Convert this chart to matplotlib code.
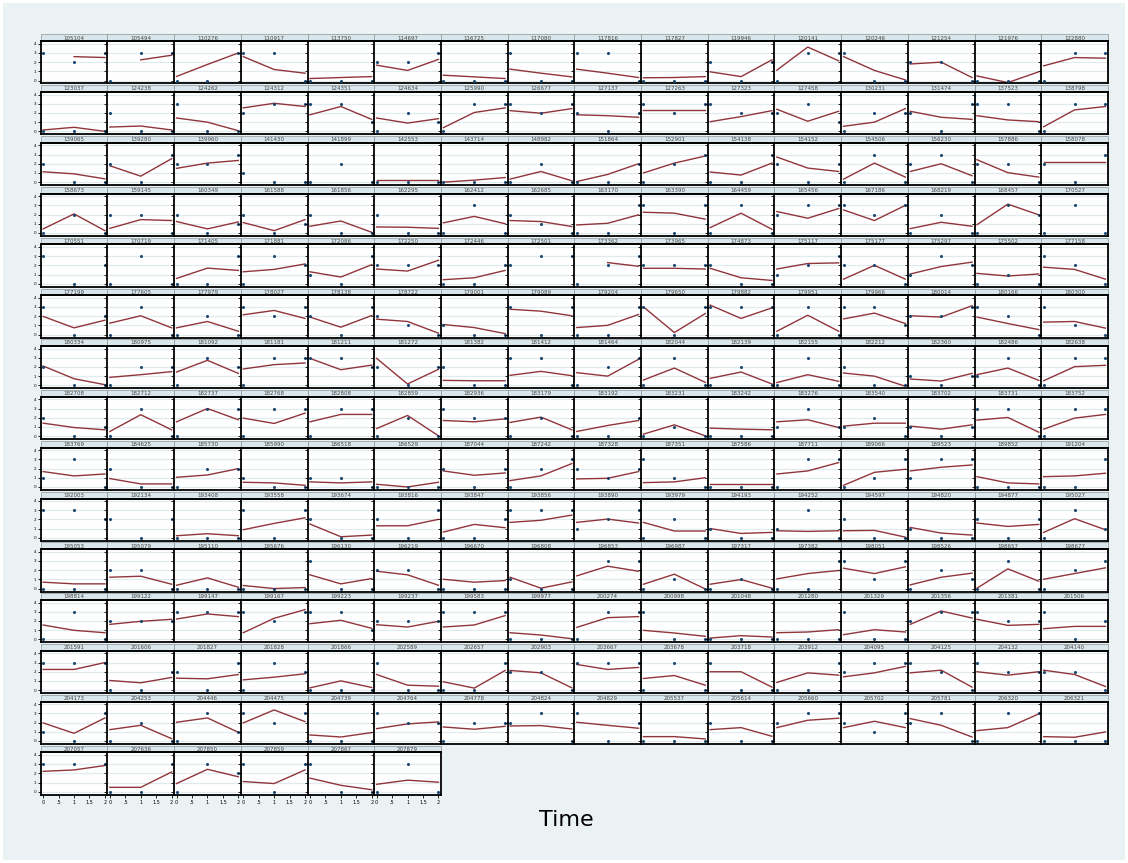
import matplotlib
matplotlib.use("Agg")
import matplotlib.pyplot as plt
from matplotlib.patches import Rectangle
from matplotlib.lines import Line2D
import numpy as np

nan = float('nan')

# ---------------- data ----------------
ids = [
    "105104","105494","110276","110917","113750","114697","116725","117080","117816","117827","119946","120141","120246","121254","121976","122880",
    "123037","124238","124262","124312","124351","124634","125990","126677","127137","127263","127323","127458","130231","131474","137523","138798",
    "139065","139280","139960","141430","141899","142553","143714","148982","151864","152901","154138","154152","154506","156230","157886","158078",
    "158673","159145","160349","161588","161856","162295","162412","162685","163170","163390","164459","165456","167186","168219","168457","170527",
    "170551","170719","171405","171881","172086","172250","172446","172501","173362","173965","174873","175117","175177","175297","175502","177158",
    "177199","177605","177979","178027","178138","178722","179001","179089","179204","179650","179882","179951","179966","180014","180166","180300",
    "180334","180975","181092","181181","181211","181272","181382","181412","181464","182044","182139","182155","182212","182360","182486","182638",
    "182708","182712","182737","182768","182808","182859","182936","183179","183192","183231","183242","183276","183540","183702","183731","183752",
    "183769","184625","185730","185990","186518","186529","187044","187242","187328","187351","187586","187711","189066","189523","189852","191204",
    "192003","192134","193408","193558","193674","193816","193847","193856","193890","193979","194193","194252","194597","194820","194877","195027",
    "195053","195079","195110","195676","196130","196219","196670","196808","196853","196987","197317","197382","198051","198526","198657","198677",
    "198814","199122","199147","199167","199223","199237","199583","199977","200274","200998","201048","201280","201329","201356","201381","201506",
    "201591","201606","201827","201828","201866","202589","202657","202903","203667","203678","203718","203912","204095","204125","204132","204140",
    "204173","204253","204446","204475","204739","204764","204778","204824","204829","205537","205614","205660","205702","205781","206320","206321",
    "207057","207636","207850","207859","207867","207879",
]

times = [0, 1, 2]

# observed values at time 0, 1, 2
observed = [
    (3,2,3),(0,3,3),(0,0,3),(3,3,0),(0,0,0),(2,2,3),(0,0,0),(3,0,0),(3,3,0),(0,0,0),(2,0,2),(0,3,3),(3,0,0),(2,2,0),(0,0,0),(0,3,3),
    (0,0,0),(2,0,0),(3,0,0),(2,3,3),(3,3,1),(0,2,1),(0,3,3),(3,2,3),(2,0,2),(3,2,3),(3,2,2),(2,3,1),(0,2,2),(2,0,3),(3,3,0),(0,3,3),
    (2,0,0),(2,0,3),(2,2,3),(1,0,0),(0,2,0),(0,0,0),(0,0,0),(0,2,0),(0,0,2),(0,2,3),(0,0,3),(2,0,2),(0,3,0),(2,3,0),(2,2,0),(2,0,3),
    (0,2,0),(2,2,0),(2,0,1),(2,0,1),(2,0,0),(2,0,0),(0,3,0),(2,1,0),(0,0,3),(3,0,3),(0,3,0),(2,3,3),(3,2,3),(0,2,0),(0,3,2),(0,3,0),
    (3,0,2),(0,3,0),(0,0,3),(0,3,2),(1,0,3),(2,2,2),(0,0,2),(2,3,3),(0,2,3),(2,2,2),(2,0,0),(1,2,3),(2,2,0),(1,3,2),(0,1,0),(3,2,0),
    (3,0,2),(0,3,0),(0,2,0),(3,2,3),(2,0,3),(2,1,0),(1,0,0),(3,0,3),(0,0,3),(3,0,3),(3,3,3),(0,3,0),(3,3,1),(2,2,3),(3,2,0),(3,1,0),
    (2,0,0),(0,2,2),(0,3,2),(0,3,3),(3,3,2),(2,0,2),(2,0,0),(3,3,0),(0,2,3),(0,3,0),(0,2,0),(0,3,0),(2,0,0),(1,0,1),(1,3,0),(0,3,3),
    (2,0,1),(0,3,0),(0,3,3),(0,3,3),(0,3,3),(0,2,0),(3,2,2),(0,2,0),(0,0,2),(0,1,0),(0,0,0),(1,3,1),(1,2,0),(1,0,1),(3,3,0),(0,3,3),
    (1,3,0),(2,0,0),(0,2,2),(1,0,0),(1,1,0),(0,0,0),(2,0,2),(0,2,3),(2,1,2),(3,1,0),(0,0,0),(0,3,3),(0,1,3),(1,3,3),(0,0,0),(0,0,3),
    (3,3,2),(2,0,2),(0,0,0),(3,0,3),(2,0,0),(2,0,3),(0,0,2),(3,3,3),(1,2,3),(0,2,0),(1,0,0),(1,3,0),(2,0,0),(1,0,0),(2,0,2),(0,3,1),
    (0,0,0),(2,2,0),(0,0,0),(0,0,0),(3,0,0),(2,2,0),(0,0,0),(1,0,0),(nan,3,3),(0,1,0),(0,1,0),(0,0,3),(3,1,3),(0,2,1),(0,3,0),(0,2,3),
    (0,3,0),(2,2,2),(3,3,3),(3,2,3),(3,3,1),(2,2,2),(3,3,3),(0,0,0),(0,3,3),(3,0,0),(0,0,0),(0,0,0),(3,0,0),(2,3,3),(3,2,2),(3,0,2),
    (3,3,3),(0,0,2),(2,0,3),(0,3,2),(0,0,0),(3,0,0),(0,0,3),(2,2,0),(3,3,3),(0,3,0),(3,0,0),(0,0,3),(2,3,3),(3,2,0),(3,2,2),(2,2,0),
    (1,0,3),(0,2,0),(0,3,1),(3,2,3),(0,0,0),(3,2,2),(0,2,2),(2,3,0),(3,0,2),(0,0,0),(2,0,0),(2,3,3),(2,1,3),(2,3,0),(0,3,3),(0,0,0),
    (3,3,3),(0,0,3),(0,3,2),(3,0,3),(3,0,0),(0,3,0),
]

# fitted values at time 0, 1, 2 (nan = not estimated)
fitted = [
    (nan,2.6,2.5),(nan,2.25,2.75),(0.45,1.75,3.0),(2.6,1.2,0.8),(0.22,0.33,0.43),(1.67,1.1,2.3),(0.58,0.4,0.22),(1.24,0.8,0.4),
    (1.24,0.8,0.33),(0.3,0.33,0.43),(0.95,0.43,2.25),(1.13,3.64,2.15),(2.6,1.1,0.07),(1.8,2.0,0.33),(0.5,-0.22,0.95),(1.6,2.5,2.43),
    (0.15,0.44,0.0),(0.47,0.58,0.15),(1.45,1.0,0.07),(2.55,3.05,2.7),(1.8,2.7,1.3),(1.45,0.9,1.38),(0.4,2.05,2.55),(2.25,1.97,2.47),
    (1.8,1.7,1.53),(2.33,2.33,2.33),(1.05,1.6,2.25),(2.4,1.1,2.18),(0.55,1.0,2.47),(2.18,1.53,1.3),(1.7,1.24,1.05),(0.5,2.33,2.7),
    (1.13,0.9,0.36),(1.78,0.65,2.55),(1.5,2.07,2.36),(nan,nan,nan),(nan,nan,nan),(0.22,0.22,0.22),(0.0,0.22,0.5),(0.33,1.16,0.15),
    (0.07,0.84,2.0),(1.0,2.07,2.84),(1.1,0.77,2.07),(2.73,1.53,1.16),(0.33,2.07,0.55),(1.16,2.0,0.7),(2.44,1.03,0.55),(2.18,2.18,2.18),
    (0.44,2.07,0.25),(0.5,1.45,1.35),(1.24,0.44,1.2),(1.13,0.25,1.45),(0.73,1.3,0.07),(0.65,0.62,0.5),(1.1,1.8,1.0),(1.35,1.24,0.7),
    (0.87,1.05,1.97),(2.25,2.15,1.5),(0.58,2.15,0.4),(2.33,1.6,2.65),(2.5,1.35,3.0),(0.47,1.16,0.73),(0.9,3.13,1.97),(nan,nan,nan),
    (nan,nan,nan),(nan,nan,nan),(0.58,1.7,1.45),(1.3,1.56,2.15),(1.3,0.73,2.07),(1.6,1.38,2.55),(0.44,0.65,1.45),(nan,nan,nan),
    (nan,2.3,1.9),(1.68,1.68,1.6),(1.68,0.65,0.36),(1.6,2.2,2.27),(0.5,2.0,0.5),(1.06,1.87,2.35),(1.13,0.84,1.06),(1.8,1.56,0.5),
    (1.97,0.73,1.56),(1.24,2.04,0.73),(0.73,1.42,0.36),(2.15,2.62,1.75),(1.9,0.8,2.07),(1.67,1.42,0.15),(1.09,0.76,0.1),(2.75,2.54,2.04),
    (0.76,1.0,2.18),(3.0,0.22,2.28),(3.2,1.75,2.9),(0.36,2.1,0.36),(1.7,2.33,1.2),(2.04,1.9,3.13),(1.9,1.2,0.54),(1.35,1.42,0.7),
    (2.1,0.72,0.07),(0.87,1.16,1.49),(1.45,2.72,1.3),(1.78,2.25,2.43),(2.93,1.7,2.2),(2.93,0.15,1.74),(0.54,0.5,0.5),(1.09,1.52,1.05),
    (1.38,1.0,2.83),(0.58,1.88,0.33),(0.76,1.45,0.15),(0.3,1.16,0.44),(1.34,1.0,-0.1),(0.69,0.47,1.3),(1.16,1.88,0.54),(0.5,2.03,2.18),
    (1.41,0.94,0.69),(0.51,2.33,0.69),(1.56,3.0,1.78),(1.96,1.38,2.5),(1.56,2.36,2.36),(0.83,2.25,0.04),(1.7,1.56,1.88),(1.49,2.07,0.69),
    (0.51,1.16,1.7),(0.22,1.23,0.04),(0.87,0.76,0.69),(1.56,1.78,0.94),(1.09,1.41,1.41),(1.09,0.76,1.23),(1.74,2.03,0.43),(0.76,1.96,2.36),
    (1.67,1.2,1.41),(0.91,0.33,0.33),(1.05,1.3,1.99),(0.51,0.44,0.18),(0.55,0.44,0.55),(0.29,0.0,0.51),(1.74,1.27,1.52),(0.69,1.2,2.54),
    (0.87,0.94,1.67),(0.47,0.55,1.0),(0.29,0.29,0.29),(1.41,1.74,2.65),(0.18,1.59,1.92),(1.74,2.14,2.39),(1.12,0.44,0.33),(1.12,1.2,1.49),
    (nan,nan,nan),(nan,nan,nan),(0.22,0.44,0.22),(0.87,1.56,2.17),(1.49,0.11,0.29),(1.3,1.3,2.0),(0.62,1.45,1.09),(1.67,1.9,2.46),
    (1.67,2.03,1.6),(1.67,0.73,0.73),(1.0,0.47,0.58),(0.76,0.69,0.76),(0.76,0.8,0.07),(1.12,0.51,0.29),(1.6,1.23,1.45),(0.58,2.07,0.87),
    (0.69,0.51,0.51),(1.23,1.34,0.47),(0.36,1.16,0.14),(0.33,0.0,0.11),(1.49,0.51,1.09),(1.88,1.49,0.36),(1.01,0.69,0.87),(1.23,0.04,0.72),
    (1.38,2.43,1.88),(0.47,1.56,-0.04),(0.47,0.98,0.04),(1.05,1.63,1.96),(2.21,1.63,2.36),(0.4,1.23,1.67),(0.04,2.14,0.8),(1.01,1.63,2.25),
    (1.56,0.98,0.72),(1.63,1.96,2.18),(2.21,2.76,2.47),(0.72,2.29,3.23),(1.7,2.07,1.2),(1.59,1.34,1.96),(1.34,1.56,2.58),(0.72,0.47,0.07),
    (1.3,2.36,2.47),(0.98,0.69,0.33),(0.14,0.4,0.25),(0.72,0.8,1.05),(0.51,1.05,0.8),(1.63,3.08,2.32),(2.18,1.52,1.63),(1.16,1.41,1.41),
    (2.25,2.25,3.0),(1.05,0.8,1.38),(1.3,1.23,1.7),(1.12,1.41,1.78),(0.25,1.01,0.29),(1.7,0.54,0.43),(0.91,0.22,2.14),(2.14,1.88,0.25),
    (2.79,2.25,2.47),(1.27,1.59,0.54),(2.0,2.0,0.33),(0.84,1.88,1.63),(1.45,1.88,2.58),(1.88,2.17,0.33),(2.0,1.63,2.0),(2.17,1.7,0.4),
    (1.96,0.83,2.5),(1.23,1.7,0.25),(2.03,2.5,0.94),(1.96,3.37,2.1),(0.65,0.43,0.91),(1.34,1.85,2.07),(1.52,1.27,1.59),(1.63,1.67,1.3),
    (2.03,1.7,1.38),(0.47,0.47,0.22),(1.23,1.45,0.51),(1.45,2.25,2.47),(1.45,2.14,1.45),(2.43,1.7,0.43),(1.12,1.45,2.94),(0.47,0.4,0.98),
    (2.22,2.37,2.85),(0.48,0.48,2.15),(0.89,2.44,1.63),(1.11,0.89,2.37),(1.48,0.7,0.22),(0.81,1.26,1.04),
]

ytick_vals = [0, 1, 2, 3, 4]
ytick_labels = ["0", "1", "2", "3", "4"]
xtick_vals = [0, 0.5, 1, 1.5, 2]
xtick_labels = ["0", ".5", "1", "1.5", "2"]

# ---------------- layout ----------------
W, H = 1128, 863
NCOL = 16
X0, PW = 40.7, 66.7
Y0, PH = 34.5, 50.8
HDR = 6.8
PLOT_OFF, PLOT_H = 7.4, 41.6

BG = "#EAF2F3"
HDR_FC = "#D9E6EB"
GRID = "#E1EAEE"
NAVY = "#1a476f"
MAROON = "#90353b"

fig = plt.figure(figsize=(W / 100, H / 100), dpi=100)
fig.patch.set_facecolor("white")
fig.add_artist(Rectangle((3 / W, 3 / H), (W - 6) / W, (H - 6) / H,
                         transform=fig.transFigure, facecolor=BG,
                         edgecolor="none", zorder=-10))


def fx(x):
    return x / W


def fy(y):
    return 1 - y / H


n = len(ids)
nrows = (n + NCOL - 1) // NCOL
for i in range(n):
    r, c = divmod(i, NCOL)
    left = X0 + c * PW
    top = Y0 + r * PH
    last_in_row = (c == NCOL - 1) or (i == n - 1)
    bottom_row = (r == nrows - 1)

    # header strip
    fig.add_artist(Rectangle((fx(left), fy(top + HDR)), PW / W, HDR / H,
                             transform=fig.transFigure, facecolor=HDR_FC,
                             edgecolor="#8a9499", linewidth=0.5, zorder=2))
    fig.add_artist(Line2D([fx(left), fx(left + PW)], [fy(top + HDR), fy(top + HDR)],
                          transform=fig.transFigure, color="black",
                          linewidth=1.4, zorder=3))
    fig.text(fx(left + PW / 2), fy(top + HDR / 2 + 0.2), ids[i], ha="center",
             va="center", fontsize=4.0, color="#444444", zorder=4)

    ax = fig.add_axes([fx(left), fy(top + PLOT_OFF + PLOT_H), PW / W, PLOT_H / H])
    ax.set_facecolor("white")
    ax.set_xlim(-0.08, 2.08)
    ax.set_ylim(-0.32, 4.2)
    for lv in ytick_vals:
        ax.axhline(lv, color=GRID, linewidth=0.9, zorder=0)

    ob = observed[i]
    ft = fitted[i]
    ax.plot(times, ft, color=MAROON, linewidth=1.0, zorder=2)
    ax.plot(times, ob, linestyle="none", marker="o", markersize=2.2,
            color=NAVY, markeredgewidth=0, zorder=3, clip_on=False)

    ax.spines["top"].set_visible(False)
    ax.spines["right"].set_visible(last_in_row)
    for s in ("left", "bottom", "right"):
        ax.spines[s].set_color("black")
        ax.spines[s].set_linewidth(1.3)

    ax.set_yticks(ytick_vals)
    ax.tick_params(axis="y", direction="out", length=2.2, width=0.6,
                   pad=1.2, labelsize=3.0, colors="black")
    if c == 0:
        ax.set_yticklabels(ytick_labels)
    else:
        ax.set_yticklabels([])

    if bottom_row:
        ax.set_xticks(xtick_vals)
        ax.set_xticklabels(xtick_labels)
        ax.tick_params(axis="x", direction="out", length=2.2, width=0.6,
                       pad=1.5, labelsize=3.5, colors="black")
    else:
        ax.set_xticks([])

fig.text(fx(566), fy(820), "Time", ha="center", va="center", fontsize=16,
         color="black")

fig.savefig("out.png", dpi=100, facecolor=fig.get_facecolor())
